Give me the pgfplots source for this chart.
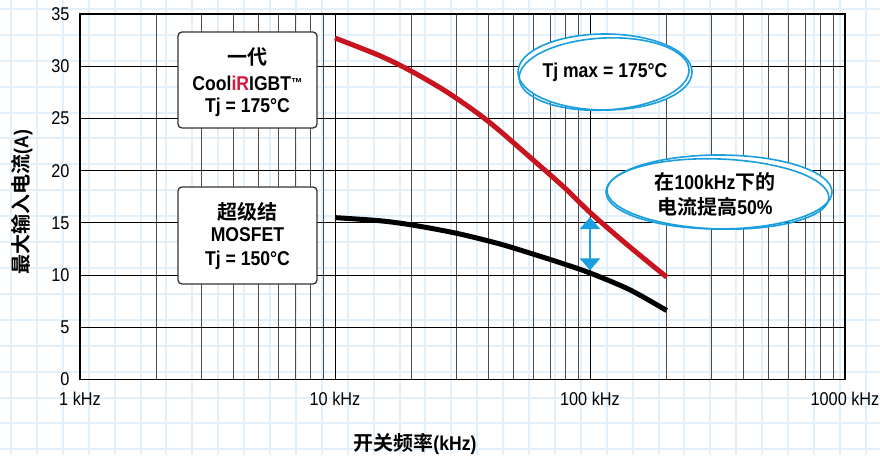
\documentclass[border=0pt]{standalone}
\usepackage{pgfplots}
\pgfplotsset{compat=1.18}
\usepackage{fontspec}
\setmainfont{Liberation Sans}[FakeStretch=0.88]
\newfontfamily\cjk{Noto Sans CJK SC}[BoldFont={* Bold}]
\usetikzlibrary{arrows.meta}
\definecolor{paper}{RGB}{225,240,250}
\definecolor{curvered}{RGB}{200,20,30}
\definecolor{iblue}{RGB}{25,158,222}
\definecolor{irred}{RGB}{220,20,60}
\begin{document}
\begin{tikzpicture}[x=1pt,y=1pt]
\useasboundingbox (0,0) rectangle (880,455);
\fill[white] (0,0) rectangle (880,455);
\foreach \i in {0,...,33} \draw[paper, line width=2pt] ({11+25.9*\i},0) -- ({11+25.9*\i},455);
\foreach \j in {0,...,17} \draw[paper, line width=2pt] (0,{446-25.9*\j}) -- (880,{446-25.9*\j});
\begin{axis}[
  at={(80pt,75.5pt)}, anchor=south west, scale only axis,
  width=765pt, height=365.5pt,
  xmode=log, xmin=1, xmax=1000, ymin=0, ymax=35,
  axis line style={line width=1.5pt},
  xtick={1,10,100,1000}, xticklabels={1 kHz,10 kHz,100 kHz,1000 kHz},
  ytick={0,5,...,35},
  major tick length=0pt, minor tick length=0pt,
  xmajorgrids, xminorgrids, ymajorgrids,
  major grid style={black, line width=1pt},
  minor grid style={black!70, line width=1pt},
  ticklabel style={font=\fontsize{18.5}{20}\selectfont},
  /pgf/number format/assume math mode=true,
  xticklabel style={yshift=-9pt},
  yticklabel style={xshift=-7pt},
]
\addplot[curvered, line width=5pt, smooth] coordinates {
  (10,32.7) (15,31.0) (20,29.5) (28,27.4) (40,24.7) (60,21.0) (80,18.3) (100,16.0) (140,12.9) (200,9.8)};
\addplot[black, line width=5pt, smooth] coordinates {
  (10,15.5) (15,15.2) (20,14.8) (30,14.0) (44,13.0) (60,12.0) (76,11.2) (100,10.2) (143,8.6) (200,6.6)};
\draw[iblue, line width=2.5pt, {Triangle[width=20pt,length=12pt]}-{Triangle[width=20pt,length=12pt]}] (axis cs:100,15.55) -- (axis cs:100,10.45);
\end{axis}
% boxes
\draw[black!80, line width=1.3pt, rounded corners=4pt, fill=white] (178,327) rectangle (317,423);
\node[font=\cjk\bfseries\fontsize{20}{22}\selectfont] at (247.5,398) {一代};
\node[font=\bfseries\fontsize{20}{22}\selectfont] at (247.5,372) {Cool\textcolor{irred}{iR}IGBT{\fontsize{13}{13}\selectfont\raisebox{3pt}{™}}};
\node[font=\bfseries\fontsize{20}{22}\selectfont] at (247.5,348) {Tj = 175°C};
\draw[black!80, line width=1.3pt, rounded corners=4pt, fill=white] (178,171) rectangle (317,268);
\node[font=\cjk\bfseries\fontsize{20}{22}\selectfont] at (247.5,243) {超级结};
\node[font=\bfseries\fontsize{20}{22}\selectfont] at (247.5,220) {MOSFET};
\node[font=\bfseries\fontsize{20}{22}\selectfont] at (247.5,195) {Tj = 150°C};
% ellipses
\fill[white] (605,383) ellipse [x radius=87, y radius=38];
\draw[iblue, line width=1.6pt] (605,383) ellipse [x radius=87, y radius=38];
\draw[iblue, line width=1.6pt, rotate around={3:(605,383)}] (604,381) ellipse [x radius=85, y radius=36];
\node[font=\bfseries\fontsize{20}{22}\selectfont] at (605,383) {Tj max = 175°C};
\fill[white] (719,263) ellipse [x radius=113, y radius=37];
\draw[iblue, line width=1.6pt] (719,263) ellipse [x radius=113, y radius=37];
\draw[iblue, line width=1.6pt, rotate around={-2:(719,263)}] (718,261) ellipse [x radius=111, y radius=35];
\node[font=\bfseries\fontsize{20}{22}\selectfont] at (715,273) {{\cjk 在}100kHz{\cjk 下的}};
\node[font=\bfseries\fontsize{20}{22}\selectfont] at (715,248) {{\cjk 电流提高}50\%};
% axis labels
\node[font=\bfseries\fontsize{20}{22}\selectfont] at (415,11) {{\cjk 开关频率}(kHz)};
\node[rotate=90, font=\bfseries\fontsize{20}{22}\selectfont] at (22,253) {{\cjk 最大输入电流}(A)};
\end{tikzpicture}
\end{document}
